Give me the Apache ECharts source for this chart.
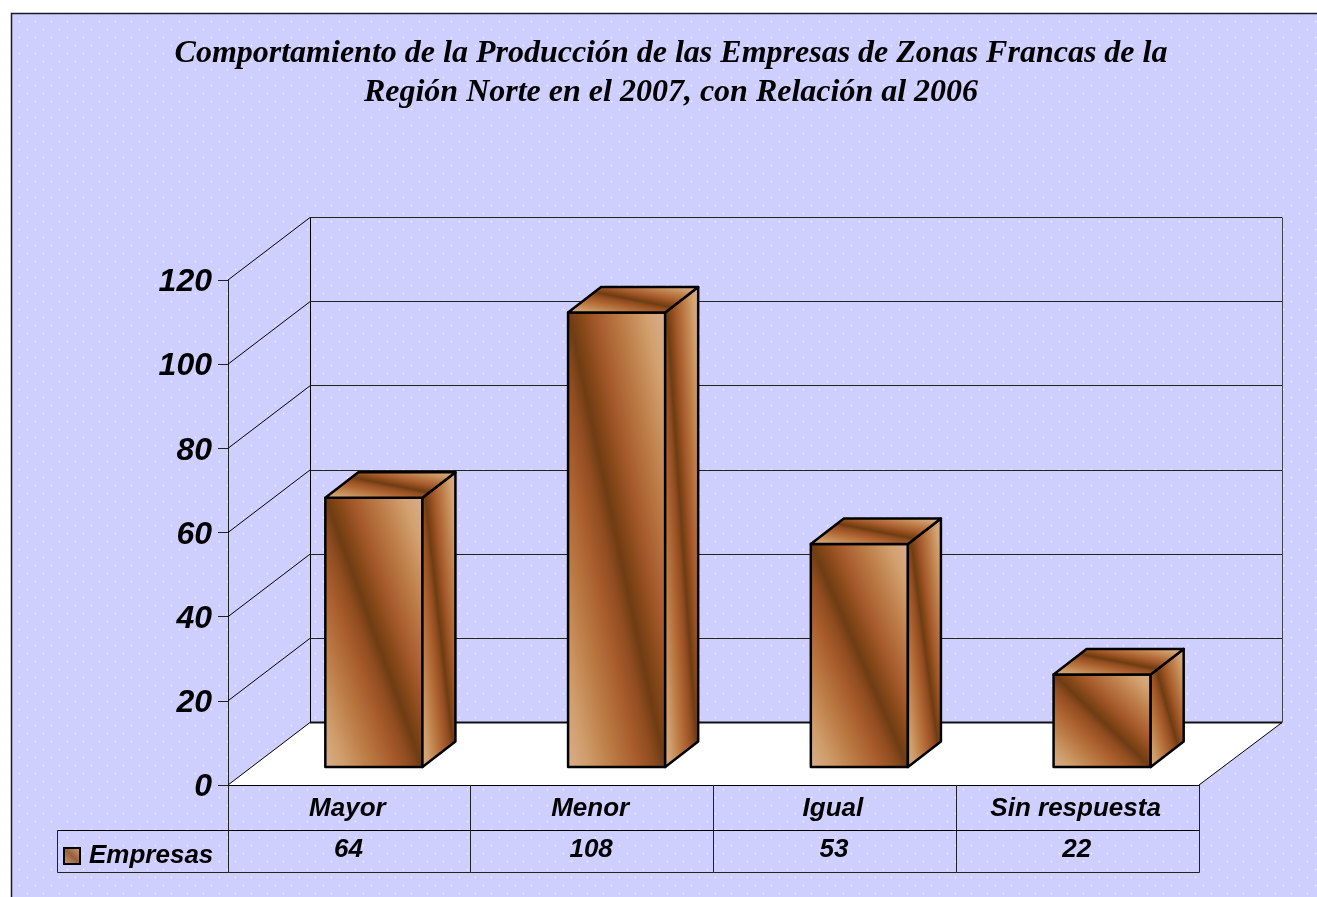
<!DOCTYPE html>
<html>
<head>
<meta charset="utf-8">
<style>html,body{margin:0;padding:0;background:#fff;overflow:hidden}#c{width:1317px;height:897px}</style>
<script src="https://cdn.jsdelivr.net/npm/echarts@6/dist/echarts.min.js"></script>
</head>
<body>
<div id="c"></div>
<script>
const titleLines = ['Comportamiento de la Producción de las Empresas de Zonas Francas de la', 'Región Norte en el 2007, con Relación al 2006'];
const categories = ['Mayor', 'Menor', 'Igual', 'Sin respuesta'];
const seriesName = 'Empresas';
const values = [64, 108, 53, 22];
const valueTicks = [0, 20, 40, 60, 80, 100, 120];

const WALL_DX = 82, WALL_DY = 62.5;     // depth of the chart box
const BAR_OFF_X = 24.5, BAR_OFF_Y = 18; // bar front face set back from front edge
const BAR_DX = 33, BAR_DY = 25.5;       // depth of a bar
const TABLE_MID = 830.5, TABLE_BOTTOM = 872.5, TABLE_LEFT = 57.5;
const SANS = '"Liberation Sans", Arial, sans-serif';
const SERIF = '"Liberation Serif", "Times New Roman", serif';

const WOOD = [
  [0, '#d9ae8e'], [0.1, '#d09e6c'], [0.24, '#bb7a44'], [0.36, '#a85c2c'],
  [0.44, '#8f4c20'], [0.5, '#6f3c14'], [0.56, '#874818'], [0.64, '#a65a2c'],
  [0.76, '#bb7a46'], [0.9, '#d2a16e'], [1, '#d8ae90']
].map(s => ({offset: s[0], color: s[1]}));

function wood(pts) {
  const xs = pts.map(p => p[0]), ys = pts.map(p => p[1]);
  const x0 = Math.min(...xs), x1 = Math.max(...xs), y0 = Math.min(...ys), y1 = Math.max(...ys);
  const w = x1 - x0, h = y1 - y0, len = Math.hypot(w, h);
  const nx = h / len, ny = -w / len, half = w * h / len;
  const cx = (x0 + x1) / 2, cy = (y0 + y1) / 2;
  return {type: 'linear', global: true, x: cx - nx * half, y: cy - ny * half,
          x2: cx + nx * half, y2: cy + ny * half, colorStops: WOOD};
}

function dots() {
  const c = document.createElement('canvas');
  c.width = c.height = 16;
  const g = c.getContext('2d');
  g.fillStyle = '#cfcfff';
  g.fillRect(0, 0, 16, 16);
  [[3, 5], [11, 13]].forEach(p => {
    g.fillStyle = 'rgba(255,255,255,0.2)';
    g.fillRect(p[0] - 1, p[1], 3, 1);
    g.fillRect(p[0], p[1] - 1, 1, 3);
    g.fillStyle = 'rgba(255,255,255,0.5)';
    g.fillRect(p[0], p[1], 1, 1);
  });
  return c;
}

const crisp = v => Math.round(v) + 0.5;
function line(x1, y1, x2, y2, w, color) {
  return {type: 'line', shape: {x1, y1, x2, y2}, silent: true,
          style: {stroke: color || '#000', lineWidth: w || 1}};
}

// walls, gridlines, floor: one datum per value tick
function renderBox(params, api) {
  const v = api.value(0);
  const p = api.coord([0, v]);
  const cs = params.coordSys;
  const x0 = cs.x, x1 = cs.x + cs.width;
  const bx0 = x0 + WALL_DX, bx1 = x1 + WALL_DX + 1;
  const y = p[1], by = Math.floor(y - WALL_DY) + 0.5;
  const children = [];
  if (v === 0) {
    const yb = cs.y + cs.height;
    children.push({type: 'polygon', silent: true, shape: {points: [[x0, yb], [bx0, by], [bx1, by], [x1, yb]]},
                   style: {fill: '#fff', stroke: null}});
    children.push(line(bx0, by, bx1, by, 2, '#111'));
    children.push(line(x1, yb, bx1, by, 1));
    children.push(line(bx0 + 0.5, cs.y - WALL_DY, bx0 + 0.5, by, 1));
    children.push(line(bx1 + 0.5, cs.y - WALL_DY, bx1 + 0.5, by, 1, '#444'));
  } else {
    children.push(line(bx0, by, bx1, by, 1, '#222'));
  }
  children.push(line(x0, y, bx0, y - WALL_DY, 1));
  return {type: 'group', children};
}

function renderBars(params, api) {
  const i = api.value(0), v = api.value(1);
  const top = api.coord([i, v]);
  const base = api.coord([i, 0]);
  const band = api.size([1, 0])[0];
  const w = band * 0.4;
  const xl = top[0] + BAR_OFF_X - w / 2, xr = xl + w;
  const yb = base[1] - BAR_OFF_Y, yt = top[1] - BAR_OFF_Y;
  const front = [[xl, yt], [xr, yt], [xr, yb], [xl, yb]];
  const side = [[xr, yt], [xr + BAR_DX, yt - BAR_DY], [xr + BAR_DX, yb - BAR_DY], [xr, yb]];
  const roof = [[xl, yt], [xl + BAR_DX, yt - BAR_DY], [xr + BAR_DX, yt - BAR_DY], [xr, yt]];
  const edge = {stroke: '#000', lineWidth: 2.5, lineJoin: 'round'};
  return {type: 'group', children: [front, side, roof].map(points => ({
    type: 'polygon', shape: {points}, style: Object.assign({fill: wood(points)}, edge)
  }))};
}

// data table under the plot
function renderTable(params, api) {
  const i = api.value(0), v = api.value(1);
  const c = api.coord([i, 0]);
  const band = api.size([1, 0])[0];
  const xl = crisp(c[0] - band / 2 - 0.5), xr = crisp(c[0] + band / 2 - 0.5);
  const children = [
    line(xr, c[1], xr, TABLE_BOTTOM, 1, '#222'),
    line(xl, TABLE_MID, xr, TABLE_MID, 1),
    line(xl, TABLE_BOTTOM, xr, TABLE_BOTTOM, 1, '#222'),
    {type: 'text', style: {text: String(v), x: c[0] - 1, y: 850, textAlign: 'center', textVerticalAlign: 'middle',
      font: 'italic bold 26px ' + SANS, fill: '#000'}}
  ];
  if (i === 0) {
    children.push(line(xl, c[1], xl, TABLE_BOTTOM, 1, '#222'));
    children.push(line(TABLE_LEFT, TABLE_MID, xl, TABLE_MID, 1));
    children.push(line(TABLE_LEFT, TABLE_BOTTOM, xl, TABLE_BOTTOM, 1, '#222'));
    children.push(line(TABLE_LEFT, TABLE_MID, TABLE_LEFT, TABLE_BOTTOM, 1, '#222'));
  }
  return {type: 'group', children};
}

const chart = echarts.init(document.getElementById('c'), null, {renderer: 'canvas'});
chart.setOption({
  animation: false,
  backgroundColor: '#fff',
  title: {
    text: titleLines.join('\n'), left: 666, top: 29, textAlign: 'center',
    textStyle: {fontFamily: SERIF, fontStyle: 'italic', fontWeight: 'bold', fontSize: 32, lineHeight: 39, color: '#000'}
  },
  legend: {
    left: 63, top: 843, padding: 0, itemWidth: 16, itemHeight: 16, selectedMode: false,
    data: [{name: seriesName, icon: 'rect', itemStyle: {
      color: {type: 'linear', x: 0, y: 1, x2: 1, y2: 0, colorStops: [
        {offset: 0, color: '#cf9f7c'}, {offset: 0.5, color: '#95603a'}, {offset: 1, color: '#cf9f7c'}
      ]}, borderColor: '#000', borderWidth: 2
    }}],
    textStyle: {fontFamily: SANS, fontStyle: 'italic', fontWeight: 'bold', fontSize: 26, color: '#000', padding: [0, 0, 0, 4]}
  },
  grid: {left: 228, right: 118, top: 280, bottom: 112, containLabel: false},
  xAxis: {
    type: 'category', data: categories,
    axisLine: {show: true, lineStyle: {color: '#000', width: 1}},
    axisTick: {show: false},
    axisLabel: {margin: 11, interval: 0, padding: [0, 4, 0, 0], fontFamily: SANS, fontStyle: 'italic', fontWeight: 'bold', fontSize: 26, color: '#000'},
    splitLine: {show: false}
  },
  yAxis: {
    type: 'value', min: 0, max: 120, interval: 20,
    axisLine: {show: true, lineStyle: {color: '#222', width: 1}},
    axisTick: {show: true, length: 10, lineStyle: {color: '#222', width: 1}},
    axisLabel: {
      margin: 16, color: '#000',
      formatter: v => '{n|' + v + '}',
      rich: {n: {padding: [5, 0, 0, 0], fontFamily: SANS, fontStyle: 'italic', fontWeight: 'bold', fontSize: 32, color: '#000'}}
    },
    splitLine: {show: false}
  },
  graphic: [{
    type: 'rect', z: -10, silent: true,
    shape: {x: 11.5, y: 13.5, width: 1330, height: 920},
    style: {fill: {image: dots(), repeat: 'repeat'}, stroke: '#1a1a2a', lineWidth: 1.5}
  }],
  series: [
    {type: 'custom', name: 'box', silent: true, clip: false, z: 1, renderItem: renderBox,
     data: valueTicks.map(t => [t]), encode: {y: 0}},
    {type: 'custom', name: seriesName, clip: false, z: 3, renderItem: renderBars,
     data: values.map((v, i) => [i, v]), encode: {x: 0, y: 1}},
    {type: 'custom', name: 'table', silent: true, clip: false, z: 2, renderItem: renderTable,
     data: values.map((v, i) => [i, v]), encode: {x: 0, y: 1}}
  ]
});
</script>
</body>
</html>
